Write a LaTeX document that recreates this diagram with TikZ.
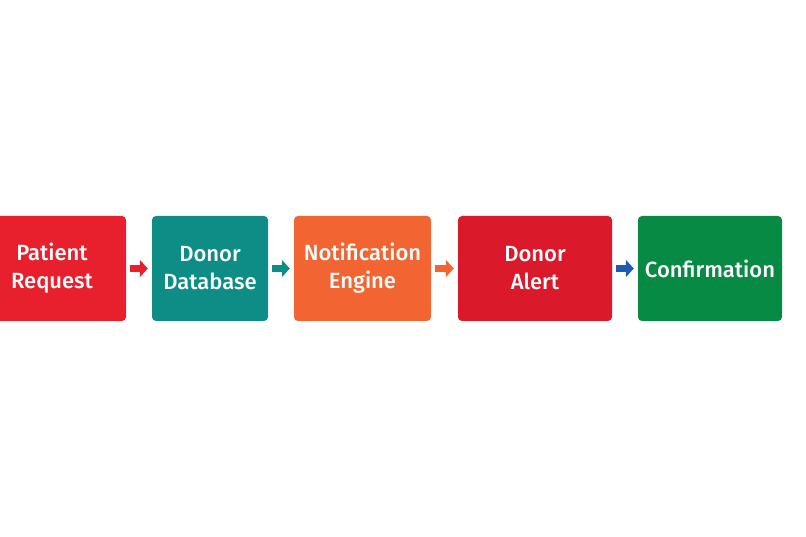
\documentclass[tikz,border=0pt]{standalone}
\usepackage{fontspec}
\setmainfont{Fira Sans}[BoldFont={Fira Sans Medium}]
\usetikzlibrary{arrows.meta}
\definecolor{reqred}{HTML}{E8202E}
\definecolor{dbteal}{HTML}{0E8C86}
\definecolor{engorange}{HTML}{F26532}
\definecolor{alertred}{HTML}{DA1A2B}
\definecolor{okgreen}{HTML}{078A44}
\definecolor{arrblue}{HTML}{1F5BAE}
\begin{document}
\begin{tikzpicture}
  [x=1pt,y=-1pt,every node/.style={rounded corners=4pt,text=white,align=center,
   minimum height=105pt,inner sep=0pt,font=\fontsize{22}{28}\selectfont\bfseries}]
  \useasboundingbox (0,0) rectangle (806,537);
  \begin{scope}
  \clip (0,0) rectangle (806,537);
  \node[fill=reqred,minimum width=148pt]    (request)  at ( 52,268.5) {Patient\\Request};
  \node[fill=dbteal,minimum width=116pt]    (database) at (210,268.5) {Donor\\Database};
  \node[fill=engorange,minimum width=137pt] (engine)   at (362.5,268.5) {Notification\\Engine};
  \node[fill=alertred,minimum width=154pt]  (alert)    at (535,268.5) {Donor\\Alert};
  \node[fill=okgreen,minimum width=144pt]   (confirm)  at (710,268.5) {Confirmation};
  \end{scope}

  \foreach \from/\to/\col in {request/database/reqred,database/engine/dbteal,
                              engine/alert/engorange,alert/confirm/arrblue}
    \draw [\col,line width=7pt,-{Triangle[length=8pt,width=17pt]},
           shorten <=4pt,shorten >=4pt] (\from) -- (\to);
\end{tikzpicture}
\end{document}
